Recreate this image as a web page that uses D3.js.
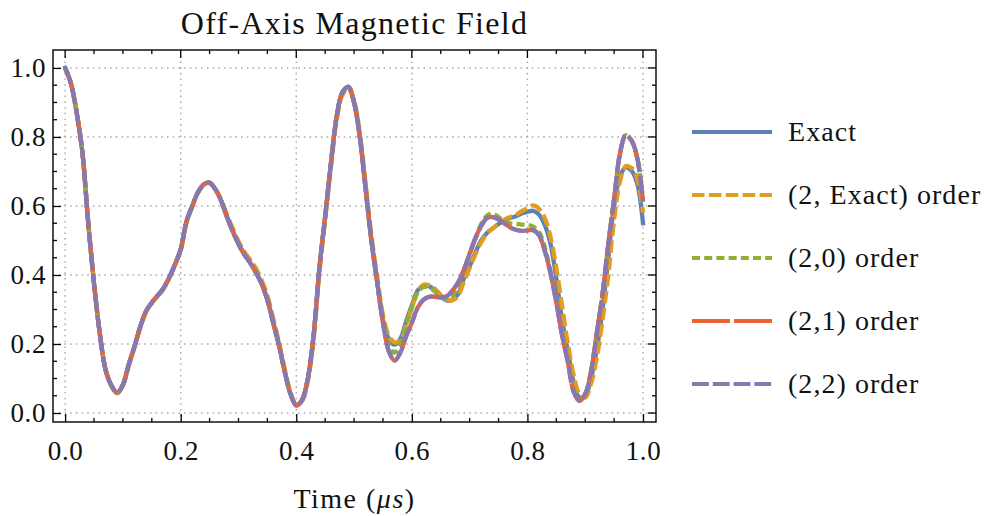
<!DOCTYPE html>
<html>
<head>
<meta charset="utf-8">
<script src="https://cdn.jsdelivr.net/npm/d3@7"></script>
<style>
  body { margin: 0; background: #fff; }
  svg { display: block; }
  text { font-family: "Liberation Serif", "DejaVu Serif", serif; fill: #111; }
</style>
</head>
<body>
<div id="chart"></div>
<script>
// time axis (microseconds, normalised)
const time = [
  0.00, 0.01, 0.02, 0.03, 0.04, 0.05, 0.06, 0.07, 0.08, 0.09,
  0.10, 0.11, 0.12, 0.13, 0.14, 0.15, 0.16, 0.17, 0.18, 0.19,
  0.20, 0.21, 0.22, 0.23, 0.24, 0.25, 0.26, 0.27, 0.28, 0.29,
  0.30, 0.31, 0.32, 0.33, 0.34, 0.35, 0.36, 0.37, 0.38, 0.39,
  0.40, 0.41, 0.42, 0.43, 0.44, 0.45, 0.46, 0.47, 0.48, 0.49,
  0.50, 0.51, 0.52, 0.53, 0.54, 0.55, 0.56, 0.57, 0.58, 0.59,
  0.60, 0.61, 0.62, 0.63, 0.64, 0.65, 0.66, 0.67, 0.68, 0.69,
  0.70, 0.71, 0.72, 0.73, 0.74, 0.75, 0.76, 0.77, 0.78, 0.79,
  0.80, 0.81, 0.82, 0.83, 0.84, 0.85, 0.86, 0.87, 0.88, 0.89,
  0.90, 0.91, 0.92, 0.93, 0.94, 0.95, 0.96, 0.97, 0.98, 0.99,
  1.00
];

const exact = [
  1.000, 0.955, 0.870, 0.753, 0.550, 0.375, 0.230, 0.125, 0.080, 0.058,
  0.082, 0.140, 0.193, 0.250, 0.295, 0.320, 0.340, 0.361, 0.392, 0.430,
  0.475, 0.555, 0.600, 0.640, 0.662, 0.667, 0.648, 0.615, 0.569, 0.527,
  0.490, 0.460, 0.436, 0.408, 0.375, 0.328, 0.262, 0.197, 0.120, 0.055,
  0.022, 0.038, 0.100, 0.225, 0.420, 0.570, 0.724, 0.860, 0.930, 0.945,
  0.900, 0.800, 0.650, 0.500, 0.380, 0.270, 0.215, 0.198, 0.215, 0.265,
  0.312, 0.355, 0.368, 0.367, 0.355, 0.338, 0.326, 0.328, 0.345, 0.390,
  0.425, 0.465, 0.500, 0.522, 0.535, 0.548, 0.558, 0.565, 0.570, 0.578,
  0.583, 0.586, 0.575, 0.545, 0.490, 0.390, 0.270, 0.180, 0.090, 0.045,
  0.050, 0.100, 0.183, 0.300, 0.450, 0.600, 0.685, 0.712, 0.703, 0.665,
  0.550
];

const order2Exact = [
  1.000, 0.955, 0.872, 0.755, 0.555, 0.378, 0.232, 0.127, 0.080, 0.060,
  0.080, 0.135, 0.190, 0.247, 0.292, 0.320, 0.338, 0.360, 0.390, 0.428,
  0.470, 0.550, 0.598, 0.640, 0.663, 0.668, 0.650, 0.618, 0.575, 0.535,
  0.498, 0.468, 0.445, 0.420, 0.385, 0.340, 0.275, 0.205, 0.128, 0.060,
  0.025, 0.035, 0.092, 0.215, 0.405, 0.560, 0.712, 0.850, 0.922, 0.940,
  0.905, 0.810, 0.665, 0.515, 0.395, 0.285, 0.225, 0.205, 0.210, 0.255,
  0.305, 0.350, 0.372, 0.370, 0.360, 0.342, 0.328, 0.326, 0.340, 0.380,
  0.420, 0.460, 0.495, 0.520, 0.535, 0.548, 0.560, 0.568, 0.574, 0.585,
  0.594, 0.602, 0.592, 0.565, 0.510, 0.420, 0.310, 0.200, 0.110, 0.055,
  0.045, 0.085, 0.160, 0.270, 0.400, 0.560, 0.670, 0.715, 0.710, 0.680,
  0.580
];

const order20 = [
  1.000, 0.955, 0.870, 0.753, 0.550, 0.375, 0.230, 0.125, 0.080, 0.058,
  0.082, 0.140, 0.193, 0.250, 0.295, 0.320, 0.340, 0.361, 0.392, 0.430,
  0.475, 0.555, 0.600, 0.640, 0.662, 0.668, 0.648, 0.615, 0.569, 0.527,
  0.490, 0.460, 0.436, 0.408, 0.375, 0.328, 0.262, 0.197, 0.120, 0.055,
  0.022, 0.038, 0.100, 0.225, 0.420, 0.570, 0.724, 0.860, 0.930, 0.945,
  0.900, 0.800, 0.650, 0.500, 0.380, 0.268, 0.200, 0.175, 0.200, 0.255,
  0.305, 0.350, 0.365, 0.365, 0.352, 0.338, 0.330, 0.340, 0.370, 0.415,
  0.460, 0.505, 0.548, 0.572, 0.578, 0.568, 0.556, 0.550, 0.548, 0.546,
  0.545, 0.540, 0.525, 0.480, 0.410, 0.330, 0.235, 0.155, 0.070, 0.037,
  0.055, 0.120, 0.231, 0.345, 0.490, 0.620, 0.750, 0.805, 0.790, 0.740,
  0.615
];

const order21 = [
  1.000, 0.955, 0.870, 0.753, 0.550, 0.375, 0.230, 0.125, 0.080, 0.058,
  0.082, 0.140, 0.193, 0.250, 0.295, 0.320, 0.340, 0.361, 0.392, 0.430,
  0.475, 0.555, 0.600, 0.640, 0.662, 0.667, 0.648, 0.615, 0.569, 0.527,
  0.490, 0.460, 0.436, 0.408, 0.375, 0.328, 0.262, 0.197, 0.120, 0.055,
  0.022, 0.038, 0.100, 0.225, 0.420, 0.570, 0.724, 0.860, 0.930, 0.945,
  0.900, 0.800, 0.650, 0.500, 0.380, 0.262, 0.180, 0.152, 0.175, 0.222,
  0.262, 0.305, 0.328, 0.337, 0.337, 0.335, 0.338, 0.355, 0.378, 0.415,
  0.462, 0.507, 0.542, 0.565, 0.568, 0.561, 0.550, 0.538, 0.531, 0.528,
  0.529, 0.530, 0.516, 0.470, 0.405, 0.320, 0.225, 0.148, 0.062, 0.035,
  0.055, 0.120, 0.231, 0.345, 0.490, 0.620, 0.750, 0.805, 0.790, 0.740,
  0.615
];

const order22 = [
  1.000, 0.955, 0.870, 0.753, 0.550, 0.375, 0.230, 0.125, 0.080, 0.058,
  0.082, 0.140, 0.193, 0.250, 0.295, 0.320, 0.340, 0.361, 0.392, 0.430,
  0.475, 0.555, 0.600, 0.640, 0.662, 0.667, 0.648, 0.615, 0.569, 0.527,
  0.490, 0.460, 0.436, 0.408, 0.375, 0.328, 0.262, 0.197, 0.120, 0.055,
  0.022, 0.038, 0.100, 0.225, 0.420, 0.570, 0.724, 0.860, 0.930, 0.945,
  0.900, 0.800, 0.650, 0.500, 0.380, 0.262, 0.180, 0.152, 0.175, 0.222,
  0.262, 0.305, 0.328, 0.337, 0.337, 0.335, 0.338, 0.355, 0.378, 0.415,
  0.462, 0.507, 0.542, 0.565, 0.568, 0.561, 0.550, 0.538, 0.531, 0.528,
  0.529, 0.530, 0.516, 0.470, 0.405, 0.320, 0.225, 0.148, 0.062, 0.035,
  0.055, 0.120, 0.231, 0.345, 0.490, 0.620, 0.750, 0.805, 0.790, 0.740,
  0.612
];

const seriesNames = ["Exact", "(2, Exact) order", "(2,0) order", "(2,1) order", "(2,2) order"];
const seriesValues = [exact, order2Exact, order20, order21, order22];
const seriesColors = ["#5E81B5", "#E19C24", "#8FB032", "#EB6235", "#8778B3"];
const seriesDashes = [null, "12.5,4.4", "8,4.2", "38,4", "16.8,4"];

const xTicks = [0.0, 0.2, 0.4, 0.6, 0.8, 1.0];
const yTicks = [0.0, 0.2, 0.4, 0.6, 0.8, 1.0];

const svgWidth = 984;
const svgHeight = 516;
const box = { left: 53, right: 656, top: 50, bottom: 422 };

const svg = d3.select("#chart")
    .append("svg")
    .attr("width", svgWidth)
    .attr("height", svgHeight);

const x = d3.scaleLinear().domain([-0.021, 1.0225]).range([box.left, box.right]);
const y = d3.scaleLinear().domain([-0.026, 1.052]).range([box.bottom, box.top]);

const minorX = d3.range(0, 1.0001, 0.05).filter(v => Math.abs(v * 5 - Math.round(v * 5)) > 1e-6);
const minorY = minorX;

// grid
const grid = svg.append("g")
    .attr("stroke", "#aaaaaa")
    .attr("stroke-width", 1.4)
    .attr("stroke-dasharray", "1.6,4.1");
grid.selectAll(".gx").data(xTicks).enter().append("line")
    .attr("x1", d => x(d)).attr("x2", d => x(d))
    .attr("y1", box.top).attr("y2", box.bottom);
grid.selectAll(".gy").data(yTicks).enter().append("line")
    .attr("y1", d => y(d)).attr("y2", d => y(d))
    .attr("x1", box.left).attr("x2", box.right);

// series
const line = d3.line()
    .x((d, i) => x(time[i]))
    .y(d => y(d))
    .curve(d3.curveCatmullRom.alpha(0.5));

seriesValues.forEach((vals, i) => {
    svg.append("path")
        .datum(vals)
        .attr("fill", "none")
        .attr("stroke", seriesColors[i])
        .attr("stroke-width", 4.3)
        .attr("stroke-linejoin", "round")
        .attr("stroke-linecap", seriesDashes[i] ? "butt" : "square")
        .attr("stroke-dasharray", seriesDashes[i])
        .attr("d", line);
});

// axes with inward ticks
const xAxis = svg.append("g")
    .attr("transform", `translate(0, ${box.bottom})`)
    .call(d3.axisBottom(x).tickValues(xTicks).tickFormat(d3.format(".1f")).tickSize(-8).tickPadding(19));
const yAxis = svg.append("g")
    .attr("transform", `translate(${box.left}, 0)`)
    .call(d3.axisLeft(y).tickValues(yTicks).tickFormat(d3.format(".1f")).tickSize(-8).tickPadding(7));
[xAxis, yAxis].forEach(a => {
    a.select(".domain").remove();
    a.selectAll(".tick line").attr("stroke", "#000").attr("stroke-width", 1.3);
    a.selectAll(".tick text")
        .attr("fill", "#111")
        .style("font-family", "'Liberation Serif', serif")
        .style("font-size", "27px")
        .style("letter-spacing", "0.6px");
});

const ticks = svg.append("g").attr("stroke", "#000").attr("stroke-width", 1.3);
// top and right major ticks
ticks.selectAll(".tt").data(xTicks).enter().append("line")
    .attr("x1", d => x(d)).attr("x2", d => x(d)).attr("y1", box.top).attr("y2", box.top + 8);
ticks.selectAll(".tr").data(yTicks).enter().append("line")
    .attr("y1", d => y(d)).attr("y2", d => y(d)).attr("x1", box.right).attr("x2", box.right - 8);
minorX.forEach(v => {
    ticks.append("line").attr("x1", x(v)).attr("x2", x(v)).attr("y1", box.bottom).attr("y2", box.bottom - 4);
    ticks.append("line").attr("x1", x(v)).attr("x2", x(v)).attr("y1", box.top).attr("y2", box.top + 4);
});
minorY.forEach(v => {
    ticks.append("line").attr("y1", y(v)).attr("y2", y(v)).attr("x1", box.left).attr("x2", box.left + 4);
    ticks.append("line").attr("y1", y(v)).attr("y2", y(v)).attr("x1", box.right).attr("x2", box.right - 4);
});

// frame
svg.append("rect")
    .attr("x", box.left).attr("y", box.top)
    .attr("width", box.right - box.left).attr("height", box.bottom - box.top)
    .attr("fill", "none").attr("stroke", "#000").attr("stroke-width", 1.4);

// title and label
svg.append("text")
    .attr("x", (box.left + box.right) / 2).attr("y", 34)
    .attr("text-anchor", "middle")
    .style("font-size", "32px")
    .style("letter-spacing", "1.3px")
    .text("Off-Axis Magnetic Field");

const xl = svg.append("text")
    .attr("x", (box.left + box.right) / 2).attr("y", 508)
    .attr("text-anchor", "middle")
    .style("font-size", "28px")
    .style("letter-spacing", "1.5px");
xl.append("tspan").text("Time (");
xl.append("tspan").style("font-style", "italic").text("μs");
xl.append("tspan").text(")");

// legend
const legend = svg.append("g");
seriesNames.forEach((name, i) => {
    const ly = 132 + i * 63;
    legend.append("line")
        .attr("x1", 692).attr("x2", 772).attr("y1", ly).attr("y2", ly)
        .attr("stroke", seriesColors[i])
        .attr("stroke-width", 4)
        .attr("stroke-dasharray", seriesDashes[i]);
    legend.append("text")
        .attr("x", 788).attr("y", ly).attr("dy", "0.33em")
        .style("font-size", "28px")
        .style("letter-spacing", "1.05px")
        .text(name);
});
</script>
</body>
</html>
